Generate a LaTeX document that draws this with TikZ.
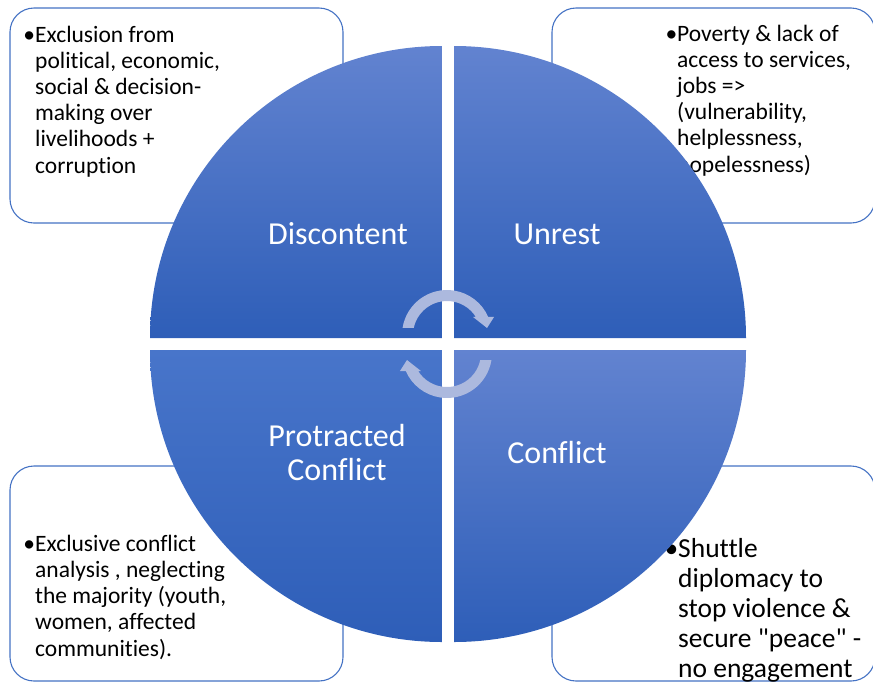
\documentclass[tikz,border=0pt]{standalone}
\usepackage{fontspec}
\setmainfont{Carlito}[Ligatures = {NoCommon}]
\definecolor{qtop}{RGB}{98,131,208}
\definecolor{qmid}{RGB}{72,117,202}
\definecolor{qbot}{RGB}{46,94,184}
\definecolor{boxline}{RGB}{68,114,196}
\definecolor{arrowfill}{RGB}{172,185,222}
\begin{document}
\begin{tikzpicture}[x = 1pt, y = -1pt,
		textbox/.style = {draw = boxline, line width = 1.1pt, rounded corners = 24pt, fill = white},
		bullettext/.style = {align = left, inner sep = 0pt, anchor = base west, font = \fontsize{23.5}{26.2}\selectfont},
		stage/.style = {text = white, align = center, inner sep = 0pt, anchor = base, font = \fontsize{32}{34}\selectfont},
		cyclearrow/.style = {fill = arrowfill}]
	\useasboundingbox (0,0) rectangle (873,686);

	\draw [textbox](10,8) rectangle (343,223);
	\draw [textbox](552,8) rectangle (875,223);
	\draw [textbox](10,466) rectangle (343,681);
	\draw [textbox](552,466) rectangle (875,681);

	\node (exclusion)[bullettext] at (35,173) {\llap{\textbullet}Exclusion from\\political, economic,\\social \& decision-\\making over\\livelihoods +\\corruption};
	\node (poverty)[bullettext] at (677,172) {\llap{\textbullet}Poverty \& lack of\\access to services,\\jobs =>\\(vulnerability,\\helplessness,\\hopelessness)};
	\node (analysis)[bullettext] at (35,656) {\llap{\textbullet}Exclusive conflict\\analysis , neglecting\\the majority (youth,\\women, affected\\communities).};
	\node (shuttle)[bullettext, font = \fontsize{27.5}{30}\selectfont] at (678,677) {\llap{\textbullet}Shuttle\\diplomacy to\\stop violence \&\\secure \textquotedbl peace\textquotedbl{} -\\no engagement};

	\foreach \cx/\cy/\a/\tc in {442/338/180/qtop, 454/338/270/qtop, 454/350/0/qtop, 442/350/90/qmid}{
			\shade [top color = \tc, bottom color = qbot](\cx,\cy)--++(\a:292) arc[start angle = \a, delta angle = 90, radius = 292]--cycle;
		}

	\node (discontent)[stage] at (338,244) {Discontent};
	\node (unrest)[stage] at (557,244) {Unrest};
	\node (protracted)[stage] at (337,480) {Protracted\\Conflict};
	\node (conflict)[stage] at (557,463) {Conflict};

	\foreach \r in {0,180}{
			\fill [cyclearrow, rotate around = {\r:(447,344)}](447,335)++(-171:45) arc[start angle = -171, end angle = -23.6, radius = 45]
				--++(5.8,0)--++(-7,11)--++(-14,-11)--++(2.8,0) arc[start angle = -32, end angle = -168, radius = 34]--cycle;
		}
\end{tikzpicture}
\end{document}
